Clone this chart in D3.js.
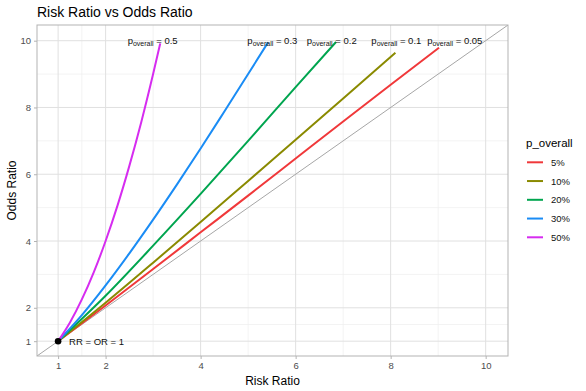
<!DOCTYPE html>
<html><head><meta charset="utf-8">
<script src="https://cdn.jsdelivr.net/npm/d3@7"></script>
<style>
body{margin:0;background:#fff;}
svg{font-family:"Liberation Sans",Arial,sans-serif;}
</style></head>
<body><svg id="chart" width="586" height="391"></svg>
<script>
// Data
const seriesKeys = ["5%", "10%", "20%", "30%", "50%"];
const seriesP = ["0.05", "0.1", "0.2", "0.3", "0.5"];
const colors = ["#f0383a", "#8a8a00", "#00a54f", "#1a8cf5", "#d62cf0"];
const rr05 = [1, 2, 3, 4, 5, 6, 7, 8, 9.02];
const or05 = [1, 2.07, 3.16, 4.26, 5.36, 6.47, 7.58, 8.68, 9.79];
const rr10 = [1, 2, 3, 4, 5, 6, 7, 8.1];
const or10 = [1, 2.15, 3.35, 4.57, 5.8, 7.03, 8.27, 9.64];
const rr20 = [1, 2, 3, 4, 5, 6, 6.85];
const or20 = [1, 2.36, 3.86, 5.41, 7.0, 8.61, 9.96];
const rr30 = [1, 1.5, 2, 2.5, 3, 3.5, 4, 4.5, 5, 5.42];
const or30 = [1, 1.78, 2.67, 3.63, 4.64, 5.69, 6.77, 7.88, 9.0, 9.95];
const rr50 = [1, 1.25, 1.5, 1.75, 2, 2.25, 2.5, 2.75, 3, 3.15];
const or50 = [1, 1.56, 2.25, 3.06, 4, 5.06, 6.25, 7.56, 9, 9.92];
const labelRR = [9.35, 8.12, 6.76, 5.51, 2.99];
const labelOR = 10;
const tickVals = [1, 2, 4, 6, 8, 10];
const minorVals = [1.5, 3, 5, 7, 9];
const domainMin = 0.556, domainMax = 10.47;

const rrs = [rr05, rr10, rr20, rr30, rr50];
const ors = [or05, or10, or20, or30, or50];
const series = seriesKeys.map((k, i) => ({key: k, p: seriesP[i], color: colors[i],
  pts: rrs[i].map((r, j) => [r, ors[i][j]])}));

const svg = d3.select("#chart");
const M = {l: 37, r: 78, t: 25, b: 35};
const W = 586, H = 391;
const x = d3.scaleLinear().domain([domainMin, domainMax]).range([M.l, W - M.r]);
const y = d3.scaleLinear().domain([domainMin, domainMax]).range([H - M.b, M.t]);

const g = svg.append("g");
// grid
g.selectAll(".vmin").data(minorVals).join("line")
  .attr("x1", d => x(d)).attr("x2", d => x(d)).attr("y1", y.range()[0]).attr("y2", y.range()[1])
  .attr("stroke", "#eeeeee").attr("stroke-width", 0.7);
g.selectAll(".hmin").data(minorVals).join("line")
  .attr("y1", d => y(d)).attr("y2", d => y(d)).attr("x1", x.range()[0]).attr("x2", x.range()[1])
  .attr("stroke", "#eeeeee").attr("stroke-width", 0.7);
g.selectAll(".vmaj").data(tickVals).join("line")
  .attr("x1", d => x(d)).attr("x2", d => x(d)).attr("y1", y.range()[0]).attr("y2", y.range()[1])
  .attr("stroke", "#e0e0e0").attr("stroke-width", 1);
g.selectAll(".hmaj").data(tickVals).join("line")
  .attr("y1", d => y(d)).attr("y2", d => y(d)).attr("x1", x.range()[0]).attr("x2", x.range()[1])
  .attr("stroke", "#e0e0e0").attr("stroke-width", 1);

// clip
svg.append("clipPath").attr("id", "clip").append("rect")
  .attr("x", M.l).attr("y", M.t).attr("width", W - M.r - M.l).attr("height", H - M.b - M.t);

// diagonal RR = OR
g.append("line").attr("clip-path", "url(#clip)")
  .attr("x1", x(domainMin)).attr("y1", y(domainMin)).attr("x2", x(domainMax)).attr("y2", y(domainMax))
  .attr("stroke", "#a6a6a6").attr("stroke-width", 1);

const line = d3.line().x(d => x(d[0])).y(d => y(d[1])).curve(d3.curveMonotoneX);
g.selectAll(".series").data(series).join("path")
  .attr("d", d => line(d.pts)).attr("fill", "none")
  .attr("stroke", d => d.color).attr("stroke-width", 2);

// panel border
g.append("rect").attr("x", M.l).attr("y", M.t).attr("width", W - M.r - M.l).attr("height", H - M.b - M.t)
  .attr("fill", "none").attr("stroke", "#b3b3b3").attr("stroke-width", 1);

// axes
const xAxis = d3.axisBottom(x).tickValues(tickVals).tickSize(3).tickPadding(3);
const yAxis = d3.axisLeft(y).tickValues(tickVals).tickSize(3).tickPadding(3);
const gx = svg.append("g").attr("transform", `translate(0,${H - M.b})`).call(xAxis);
const gy = svg.append("g").attr("transform", `translate(${M.l},0)`).call(yAxis);
[gx, gy].forEach(a => {
  a.select(".domain").remove();
  a.selectAll(".tick line").attr("stroke", "#b3b3b3");
  a.selectAll(".tick text").attr("fill", "#4d4d4d").style("font-size", "9.5px")
    .style("font-family", "'Liberation Sans',Arial,sans-serif");
});

// point and annotation
svg.append("circle").attr("cx", x(1)).attr("cy", y(1)).attr("r", 3.3).attr("fill", "#000");
svg.append("text").attr("x", x(1) + 11).attr("y", y(1) + 3.5).text("RR = OR = 1")
  .style("font-size", "9.5px").attr("fill", "#111");

// top labels
series.forEach((s, i) => {
  const t = svg.append("text").attr("x", x(labelRR[i])).attr("y", y(labelOR) + 3)
    .attr("text-anchor", "middle").style("font-size", "9.5px").attr("fill", "#111");
  t.append("tspan").text("p");
  t.append("tspan").text("overall").attr("dy", 2).style("font-size", "7px");
  t.append("tspan").text(" = " + s.p).attr("dy", -2);
});

// titles
svg.append("text").attr("x", M.l).attr("y", 17).text("Risk Ratio vs Odds Ratio")
  .style("font-size", "14px").attr("fill", "#000");
svg.append("text").attr("x", (M.l + W - M.r) / 2).attr("y", 385).attr("text-anchor", "middle")
  .text("Risk Ratio").style("font-size", "12px").attr("fill", "#000");
svg.append("text").attr("transform", `translate(16,${(M.t + H - M.b) / 2}) rotate(-90)`)
  .attr("text-anchor", "middle").text("Odds Ratio").style("font-size", "12px").attr("fill", "#000");

// legend
const lg = svg.append("g").attr("transform", "translate(526,0)");
lg.append("text").attr("x", 0).attr("y", 147).text("p_overall").style("font-size", "11.5px").attr("fill", "#000");
series.forEach((s, i) => {
  const yy = 162.3 + i * 18.75;
  lg.append("line").attr("x1", 1).attr("x2", 17).attr("y1", yy).attr("y2", yy)
    .attr("stroke", s.color).attr("stroke-width", 2);
  lg.append("text").attr("x", 25).attr("y", yy + 3.5).text(s.key).style("font-size", "9.5px").attr("fill", "#111");
});
</script></body></html>
